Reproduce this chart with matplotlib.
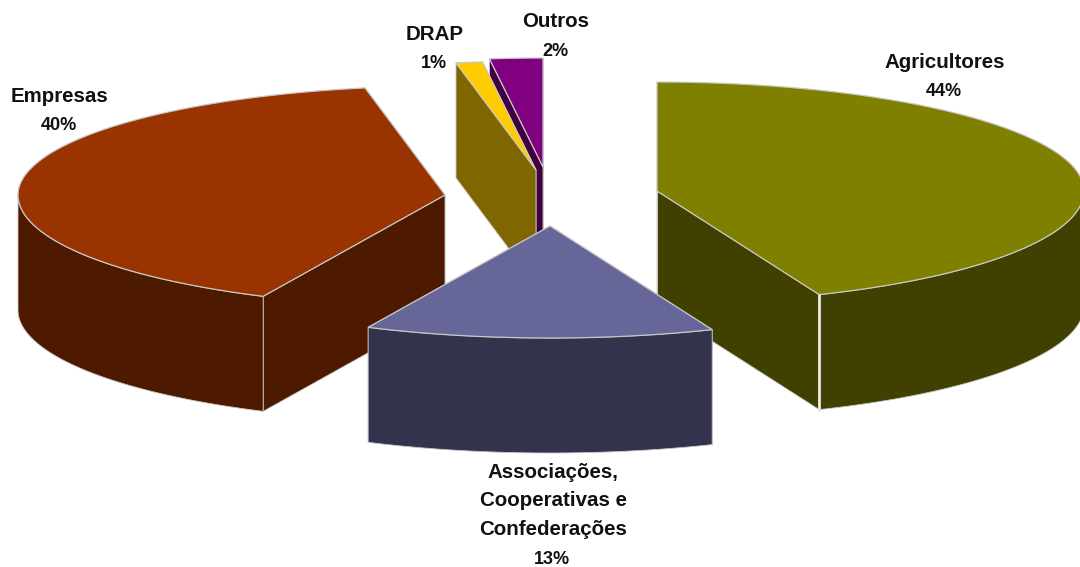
import matplotlib
matplotlib.use('Agg')
import matplotlib.pyplot as plt
from matplotlib.patches import Polygon
import numpy as np

# slices, clockwise from 12 o'clock, in the order the chart stacks them
categories = ['Agricultores', 'Associações,\nCooperativas e\nConfederações', 'Empresas', 'DRAP', 'Outros']
values = [43.8, 13.2, 40.0, 1.0, 2.0]
top_colors = ['#808000', '#666699', '#993300', '#FFCC00', '#800080']
side_colors = ['#404000', '#33334D', '#4D1A00', '#806600', '#400040']

# layout in pixels of the picture
apex = [(657, 191), (550, 226), (445, 195), (536, 170), (543, 167)]
label_pos = [(945, 68), (553, 478), (60, 102), (435, 40), (556, 27)]
rx = 427
ry_back = 109
ry_front = 112
depth = 115
line_gap = 28.5
edge = '#c8c8c8'


def rim(c, a0, a1, n=80):
    t = np.radians(np.linspace(a0, a1, n))
    cos = np.cos(t)
    ry = np.where(cos > 0, ry_back, ry_front)
    return np.column_stack([c[0] + rx * np.sin(t), c[1] - ry * cos])


def shifted(pts):
    return pts + np.array([0, depth])


fig = plt.figure(figsize=(10.8, 5.67), dpi=100)
ax = fig.add_axes([0, 0, 1, 1])
ax.set_xlim(0, 1080)
ax.set_ylim(567, 0)
ax.axis('off')

ends = np.cumsum(values) / np.sum(values) * 360
starts = np.concatenate([[0], ends[:-1]])

# back slices first, the exploded front one last
for i in [4, 3, 2, 0, 1]:
    a0, a1 = starts[i], ends[i]
    c = np.array(apex[i], dtype=float)
    arc = rim(c, a0, a1)
    # flat cut faces
    for p in (arc[-1], arc[0]):
        face = np.array([c, p, p + [0, depth], c + [0, depth]])
        ax.add_patch(Polygon(face, fc=side_colors[i], ec=edge, lw=0.6))
    # outer wall, only the part turned to the viewer
    lo, hi = max(a0, 90), min(a1, 270)
    if hi > lo:
        wall = rim(c, lo, hi)
        ax.add_patch(Polygon(np.vstack([wall, shifted(wall)[::-1]]),
                             fc=side_colors[i], ec=edge, lw=0.6))
    if i == 0:
        # the near corner of this slice shows as a wider light line
        ax.plot([arc[-1][0]] * 2, [arc[-1][1], arc[-1][1] + depth], color='#e8e8e8', lw=2)
    ax.add_patch(Polygon(np.vstack([c, arc]), fc=top_colors[i], ec=edge, lw=0.9))

for name, v, pos in zip(categories, values, label_pos):
    lines = name.split('\n')
    for j, line in enumerate(lines):
        ax.text(pos[0], pos[1] + j * line_gap, line, ha='center', va='baseline',
                family='Liberation Sans', fontweight='bold', fontsize=14.8, color='#111111')
    ax.text(pos[0] - 1, pos[1] + len(lines) * line_gap, f'{round(v)}%', ha='center', va='baseline',
            family='Liberation Sans', fontweight='bold', fontsize=13, color='#111111')

fig.savefig('out.png', dpi=100)
